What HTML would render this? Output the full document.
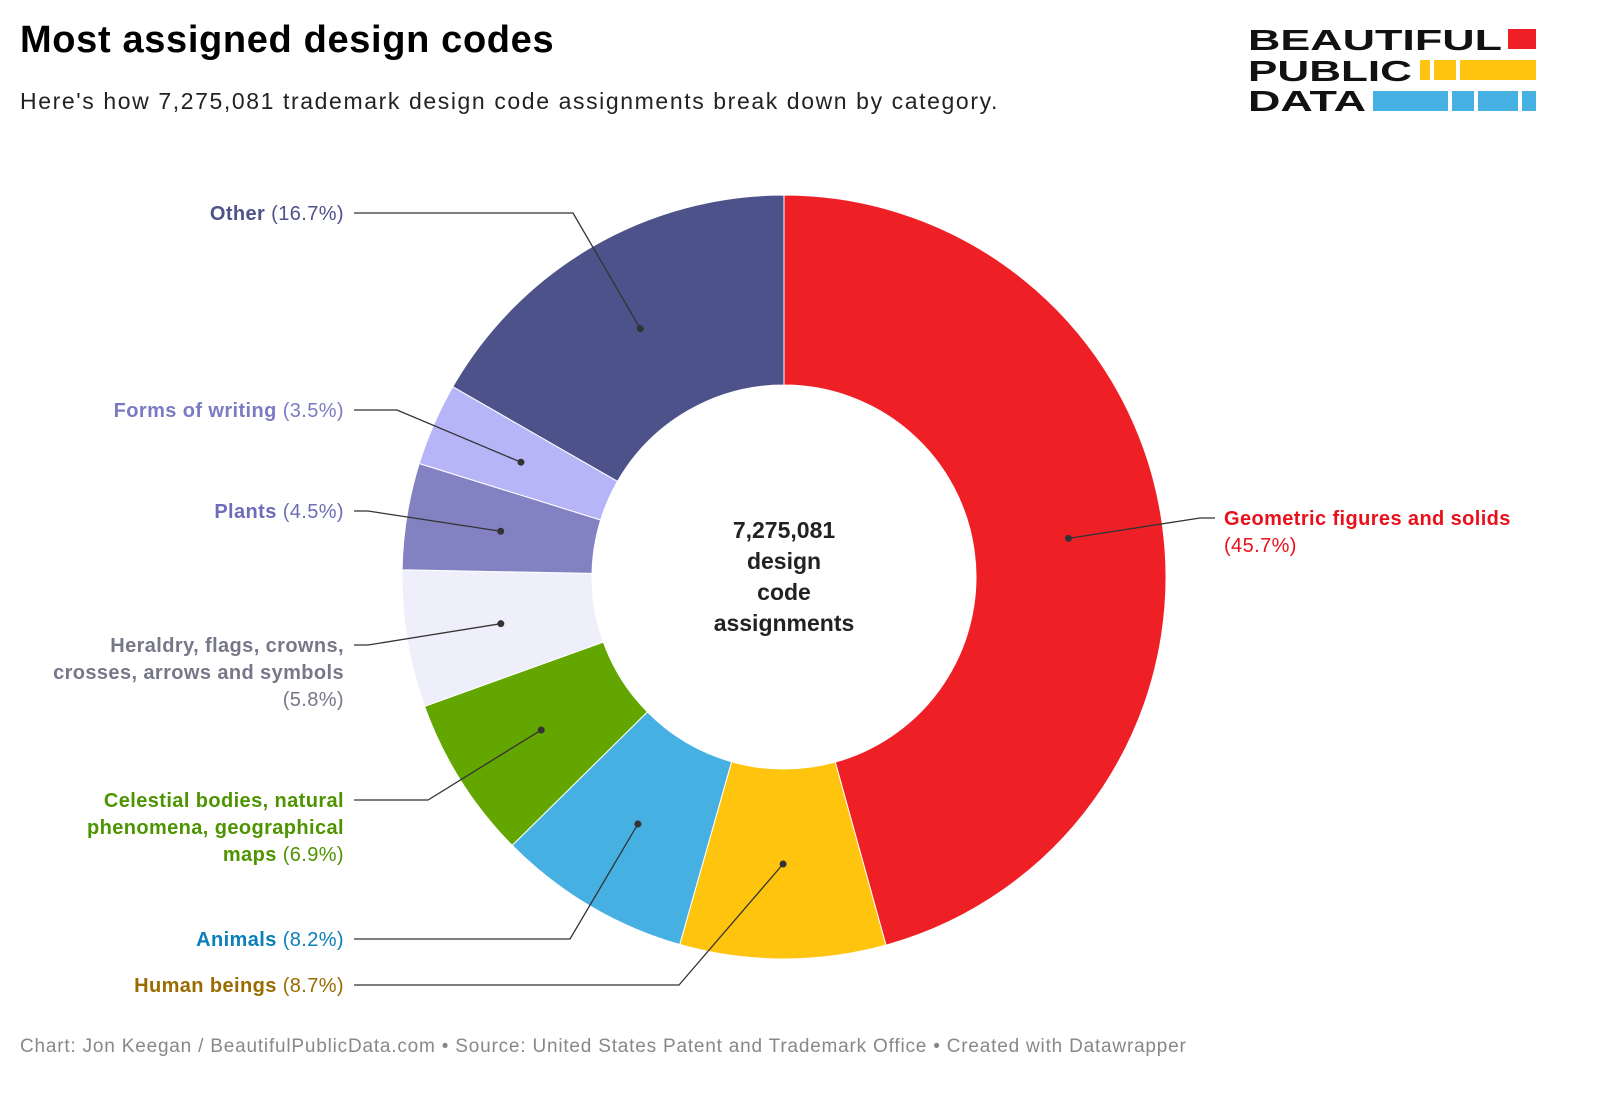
<!DOCTYPE html>
<html><head><meta charset="utf-8"><style>
body{margin:0;width:1600px;height:1102px;background:#fff;font-family:"Liberation Sans",sans-serif;overflow:hidden;position:relative}
#title{position:absolute;left:20px;top:19px;font-size:38px;font-weight:bold;color:#000;letter-spacing:0.65px}
#sub{position:absolute;left:20px;top:88px;font-size:23px;color:#222;letter-spacing:1.6px}
#foot{position:absolute;left:20px;top:1036px;font-size:19px;color:#888;letter-spacing:0.8px}
svg{position:absolute;left:0;top:0}
</style></head><body>
<div id="title">Most assigned design codes</div>
<div id="sub">Here's how 7,275,081 trademark design code assignments break down by category.</div>
<div id="foot">Chart: Jon Keegan / BeautifulPublicData.com • Source: United States Patent and Trademark Office • Created with Datawrapper</div>
<svg width="1600" height="1102" id="chart">
<g font-family="Liberation Sans, sans-serif" font-weight="bold" font-size="29" fill="#111">
<text x="1248" y="50" textLength="254" lengthAdjust="spacingAndGlyphs">BEAUTIFUL</text>
<text x="1248" y="81" textLength="164" lengthAdjust="spacingAndGlyphs">PUBLIC</text>
<text x="1248" y="111" textLength="118" lengthAdjust="spacingAndGlyphs">DATA</text>
<rect x="1508" y="29" width="28" height="20" fill="#ee2026"/>
<rect x="1420" y="60" width="10" height="20" fill="#fec40e"/><rect x="1434" y="60" width="22" height="20" fill="#fec40e"/><rect x="1460" y="60" width="76" height="20" fill="#fec40e"/>
<rect x="1373" y="91" width="75" height="20" fill="#47b0e3"/><rect x="1452" y="91" width="22" height="20" fill="#47b0e3"/><rect x="1478" y="91" width="40" height="20" fill="#47b0e3"/><rect x="1522" y="91" width="14" height="20" fill="#47b0e3"/>
</g>
<g id="slices"></g><g id="labels"></g>
<text x="784" y="538" text-anchor="middle" font-size="23" font-weight="bold" fill="#222"><tspan x="784">7,275,081</tspan><tspan x="784" dy="31">design</tspan><tspan x="784" dy="31">code</tspan><tspan x="784" dy="31">assignments</tspan></text>
</svg>
<script>
const categories=["Geometric figures and solids","Human beings","Animals","Celestial bodies, natural phenomena, geographical maps","Heraldry, flags, crowns, crosses, arrows and symbols","Plants","Forms of writing","Other"];
const values=[45.7,8.7,8.2,6.9,5.8,4.5,3.5,16.7];
const colors=["#ee2026","#fec40e","#47b0e3","#63a600","#efeffc","#8282c3","#b5b5f8","#4e528a"];
const labelColors=["#e8111b","#9a6c00","#0a7fb8","#4e9400","#77778a","#6d6db8","#7b7bc4","#4e528a"];
const nameLines=[["Geometric figures and solids"],["Human beings"],["Animals"],["Celestial bodies, natural","phenomena, geographical","maps"],["Heraldry, flags, crowns,","crosses, arrows and symbols"],["Plants"],["Forms of writing"],["Other"]];
const labelY=[518,985,939,800,645,511,410,213];
const elbowX=[1200,679,570,428,368,368,397,573];
const NS="http://www.w3.org/2000/svg";
const cx=784,cy=577,R=382,r=192;
const total=values.reduce((a,b)=>a+b,0);
function pt(a,rad){return [cx+rad*Math.sin(a),cy-rad*Math.cos(a)];}
const sg=document.getElementById('slices'),lg=document.getElementById('labels');
let acc=0;
values.forEach((v,i)=>{
 const a0=acc/total*2*Math.PI,a1=(acc+v)/total*2*Math.PI;acc+=v;
 const big=(a1-a0)>Math.PI?1:0;
 const p0=pt(a0,R),p1=pt(a1,R),q1=pt(a1,r),q0=pt(a0,r);
 const p=document.createElementNS(NS,'path');
 p.setAttribute('d',`M${p0}A${R},${R} 0 ${big} 1 ${p1}L${q1}A${r},${r} 0 ${big} 0 ${q0}Z`);
 p.setAttribute('fill',colors[i]);p.setAttribute('stroke','#fff');p.setAttribute('stroke-width','1');
 
 
 sg.appendChild(p);
 const d=pt((a0+a1)/2,(R+r)/2);
 const right=i===0;
 const ly=labelY[i];
 const endX=right?1215:354;
 const l=document.createElementNS(NS,'polyline');
 l.setAttribute('points',`${d} ${elbowX[i]},${ly} ${endX},${ly}`);
 l.setAttribute('fill','none');l.setAttribute('stroke','#333');l.setAttribute('stroke-width','1.3');
 
 
 lg.appendChild(l);
 const c=document.createElementNS(NS,'circle');
 c.setAttribute('cx',d[0]);c.setAttribute('cy',d[1]);c.setAttribute('r','3.5');c.setAttribute('fill','#333');
 
 
 lg.appendChild(c);
 const t=document.createElementNS(NS,'text');
 t.setAttribute('font-size','20');t.setAttribute('fill',labelColors[i]);
 t.setAttribute('letter-spacing','0.4');
 t.setAttribute('text-anchor',right?'start':'end');
 
 
 const x=right?1224:344;
 const pct='('+v.toFixed(1)+'%)';
 let lines=nameLines[i].slice();
 const rows=[];
 if(right){rows.push([lines[0],'']);rows.push(['',pct]);}
 else if(i===4){lines.forEach(s=>rows.push([s,'']));rows.push(['',pct]);}
 else{lines.forEach((s,k)=>rows.push([s,k===lines.length-1?' '+pct:'']));}
 rows.forEach((row,k)=>{
  const ts=document.createElementNS(NS,'tspan');ts.setAttribute('x',x);ts.setAttribute('y',ly+7+k*27);
  if(row[0]){const b=document.createElementNS(NS,'tspan');b.setAttribute('font-weight','bold');b.textContent=row[0];ts.appendChild(b);}
  if(row[1]){const n=document.createElementNS(NS,'tspan');n.textContent=row[1];ts.appendChild(n);}
  t.appendChild(ts);
 });
 lg.appendChild(t);
});
</script>
</body></html>
